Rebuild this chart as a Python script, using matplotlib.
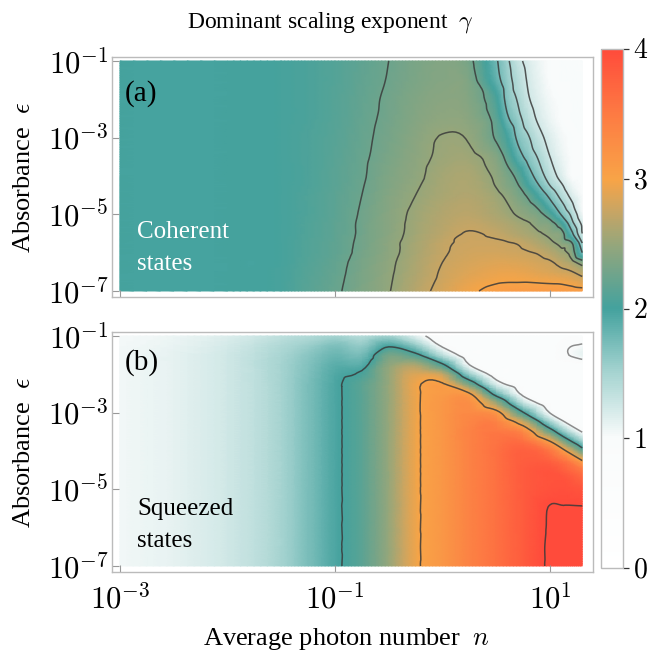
import numpy as np
import matplotlib
matplotlib.use("Agg")
import matplotlib.pyplot as plt
import matplotlib.tri as mtri
from matplotlib.colors import LinearSegmentedColormap, Normalize
from matplotlib.cm import ScalarMappable

plt.rcParams['font.family'] = ['Liberation Serif', 'DejaVu Serif']
plt.rcParams['mathtext.fontset'] = 'cm'

# ---------------------------
# Data (log10 n across, log10 eps up)
# ---------------------------
log_n_a = [-3, -2, -1.5, -1.25, -1, -0.75, -0.5, -0.25, 0, 0.25, 0.5, 0.6, 0.7, 0.8, 0.9, 1.0, 1.1, 1.2, 1.3]
log_eps_a = [-7, -6.75, -6.5, -6.25, -6, -5.75, -5.5, -5.25, -5, -4.75, -4.5, -4.25, -4,
             -3.5, -3, -2.5, -2, -1.5, -1]

# panel (a), coherent states: one row per log_eps_a value (bottom to top)
gamma_a = [
    [2.0, 2.0, 2.03, 2.13, 2.22, 2.35, 2.49, 2.66, 2.82, 2.96, 3.06, 3.09, 3.1, 3.1, 3.1, 3.1, 3.1, 3.09, 3.08],
    [2.0, 2.0, 2.03, 2.12, 2.21, 2.34, 2.48, 2.64, 2.79, 2.91, 2.98, 2.99, 2.99, 2.99, 2.98, 2.97, 2.96, 2.92, 2.85],
    [2.0, 2.0, 2.03, 2.11, 2.2, 2.33, 2.47, 2.62, 2.77, 2.86, 2.92, 2.93, 2.92, 2.9, 2.87, 2.84, 2.8, 2.76, 2.65],
    [2.0, 2.0, 2.02, 2.1, 2.19, 2.32, 2.46, 2.61, 2.75, 2.82, 2.86, 2.86, 2.85, 2.83, 2.8, 2.77, 2.69, 2.58, 2.37],
    [2.0, 2.0, 2.02, 2.09, 2.17, 2.3, 2.44, 2.59, 2.73, 2.79, 2.8, 2.79, 2.78, 2.76, 2.73, 2.66, 2.56, 2.4, 1.75],
    [2.0, 2.0, 2.02, 2.09, 2.17, 2.29, 2.44, 2.58, 2.72, 2.77, 2.77, 2.76, 2.74, 2.69, 2.62, 2.54, 2.44, 2.28, 1.5],
    [2.0, 2.0, 2.02, 2.08, 2.16, 2.28, 2.42, 2.56, 2.68, 2.76, 2.72, 2.68, 2.63, 2.58, 2.52, 2.45, 2.38, 1.82, 1.25],
    [2.0, 2.0, 2.02, 2.08, 2.16, 2.28, 2.42, 2.55, 2.66, 2.72, 2.66, 2.62, 2.57, 2.52, 2.41, 2.36, 2.1, 1.6, 1.2],
    [2.0, 2.0, 2.02, 2.07, 2.15, 2.27, 2.41, 2.54, 2.64, 2.68, 2.6, 2.55, 2.48, 2.41, 2.32, 2.1, 1.75, 1.45, 1.05],
    [2.0, 2.0, 2.02, 2.07, 2.15, 2.26, 2.4, 2.52, 2.62, 2.66, 2.57, 2.51, 2.42, 2.32, 2.15, 1.85, 1.58, 1.3, 1.0],
    [2.0, 2.0, 2.02, 2.07, 2.15, 2.25, 2.39, 2.5, 2.59, 2.63, 2.54, 2.46, 2.34, 2.2, 1.93, 1.68, 1.43, 1.18, 1.0],
    [2.0, 2.0, 2.02, 2.06, 2.14, 2.24, 2.37, 2.48, 2.58, 2.61, 2.49, 2.38, 2.27, 2.0, 1.75, 1.5, 1.3, 1.08, 1.0],
    [2.0, 2.0, 2.02, 2.06, 2.14, 2.23, 2.36, 2.46, 2.57, 2.6, 2.46, 2.34, 2.18, 1.87, 1.62, 1.38, 1.18, 1.0, 1.0],
    [2.0, 2.0, 2.02, 2.06, 2.13, 2.22, 2.33, 2.44, 2.53, 2.54, 2.38, 2.18, 1.88, 1.65, 1.46, 1.25, 1.1, 1.0, 1.0],
    [2.0, 2.0, 2.02, 2.06, 2.12, 2.21, 2.31, 2.42, 2.51, 2.48, 2.22, 2.02, 1.7, 1.52, 1.32, 1.17, 1.05, 1.0, 1.0],
    [2.0, 2.0, 2.02, 2.05, 2.11, 2.2, 2.29, 2.39, 2.45, 2.42, 2.15, 1.8, 1.58, 1.37, 1.2, 1.08, 1.0, 1.0, 1.0],
    [2.0, 2.0, 2.02, 2.05, 2.11, 2.19, 2.28, 2.37, 2.42, 2.38, 2.05, 1.67, 1.48, 1.27, 1.14, 1.04, 1.0, 1.0, 1.0],
    [2.0, 2.0, 2.02, 2.05, 2.1, 2.18, 2.26, 2.34, 2.39, 2.35, 1.85, 1.6, 1.4, 1.22, 1.1, 1.0, 1.0, 1.0, 1.0],
    [2.0, 2.0, 2.02, 2.05, 2.1, 2.17, 2.25, 2.33, 2.38, 2.3, 1.78, 1.55, 1.32, 1.18, 1.07, 1.0, 1.0, 1.0, 1.0],
]

log_n_b = [-3, -2.5, -2, -1.5, -1.25, -1, -0.75, -0.5, -0.25, 0, 0.25, 0.5, 0.75, 1.0, 1.15, 1.3]
log_eps_b = [-7, -6.5, -6, -5.5, -5, -4.75, -4.5, -4.25, -4, -3.75, -3.5, -3.25, -3,
             -2.75, -2.5, -2.25, -2, -1.75, -1.5, -1.25, -1]

# panel (b), squeezed states: one list per log_n_b value (bottom to top)
gamma_b_cols = [
    [1.05] * 19 + [1.04, 1.03],
    [1.12] * 19 + [1.1, 1.08],
    [1.25] * 19 + [1.22, 1.18],
    [1.5] * 18 + [1.48, 1.44, 1.35],
    [1.72] * 16 + [1.7, 1.68, 1.64, 1.55, 1.42],
    [1.95] * 16 + [1.93, 1.88, 1.8, 1.7, 1.5],
    [2.15] * 16 + [2.05, 1.9, 1.75, 1.6, 1.4],
    [2.5] * 17 + [2.45, 2.3, 1.95, 1.5],
    [2.95] * 16 + [2.85, 2.6, 2.1, 1.6, 1.15],
    [3.15] * 14 + [3.1, 3.03, 2.72, 2.06, 1.38, 0.95, 0.82],
    [3.4] * 11 + [3.36, 3.31, 3.24, 3.02, 2.29, 1.59, 1.0, 0.8, 0.8, 0.8],
    [3.6] * 9 + [3.57, 3.52, 3.4, 3.13, 2.53, 1.81, 1.18, 0.83, 0.8, 0.8, 0.8, 0.8],
    [3.82] * 7 + [3.8, 3.77, 3.6, 3.33, 2.78, 2.03, 1.36, 0.91] + [0.8] * 6,
    [4.03, 4.03, 4.02, 4.01, 3.93, 3.91, 3.89, 3.75, 3.53, 3.01, 2.25, 1.55, 0.985] + [0.8] * 8,
    [4.05, 4.05, 4.04, 4.01, 3.94, 3.9, 3.75, 3.52, 3.0, 2.24, 1.53, 0.98, 0.8,
     0.8, 0.8, 0.8, 0.8, 0.82, 0.98, 0.97, 0.85],
    [4.06, 4.06, 4.05, 4.01, 3.9, 3.75, 3.52, 3.0, 2.24, 1.53, 0.98, 0.8, 0.8,
     0.8, 0.8, 0.8, 0.8, 0.85, 1.1, 1.02, 0.85],
]
gamma_b = np.array(gamma_b_cols).T

levels_a = [1.25, 1.5, 1.75, 2.25, 2.5, 2.75, 3.0]
levels_b = [2, 3, 4]
levels_b_light = [1]

x_ticks = [-3, -1, 1]
y_ticks = [-7, -5, -3, -1]
cbar_ticks = [0, 1, 2, 3, 4]

cmap_stops = [0, 1.0, 1.5, 2.0, 2.5, 2.75, 3.0, 3.5, 4.0]
cmap_colors = ['#ffffff', '#f9fbfb', '#a6d4d1', '#44a29e', '#96a67b',
               '#c8a564', '#f8a447', '#fd7b43', '#ff4b3b']

cmap = LinearSegmentedColormap.from_list(
    'gamma', [(s / 4, c) for s, c in zip(cmap_stops, cmap_colors)])
norm = Normalize(vmin=0, vmax=4)

# ---------------------------
# Figure
# ---------------------------
fig = plt.figure(figsize=(6.48, 6.53), dpi=100)
W, H = 648, 653


def px_axes(left, top, right, bottom):
    return fig.add_axes([left / W, 1 - bottom / H, (right - left) / W, (bottom - top) / H])


def draw_panel(ax, log_n, log_eps, gamma, dark_levels, light_levels=None):
    gamma = np.asarray(gamma, dtype=float)
    X, Y = np.meshgrid(log_n, log_eps)
    tri = mtri.Triangulation(X.ravel(), Y.ravel())
    interp = mtri.CubicTriInterpolator(tri, gamma.ravel(), kind='geom')
    tri_f, z_f = mtri.UniformTriRefiner(tri).refine_field(gamma.ravel(), triinterpolator=interp,
                                                          subdiv=3)
    ax.tripcolor(tri_f, z_f, shading='gouraud', cmap=cmap, norm=norm, rasterized=True)
    ax.tricontour(tri_f, z_f, levels=dark_levels, colors='#3a3a3a',
                  linewidths=1.1, alpha=0.85)
    if light_levels:
        ax.tricontour(tri_f, z_f, levels=light_levels, colors='#808080',
                      linewidths=1.1, alpha=0.9)


def style_axes(ax, show_x):
    ax.set_xlim(-3.074, 1.40)
    ax.set_ylim(-7.157, -0.896)
    ax.set_xticks(x_ticks)
    ax.set_yticks(y_ticks)
    ax.set_yticklabels([r'$10^{%d}$' % t for t in y_ticks], fontsize=22)
    if show_x:
        ax.set_xticklabels([r'$10^{%d}$' % t for t in x_ticks], fontsize=22)
    else:
        ax.set_xticklabels([])
    ax.tick_params(direction='in', length=5, width=0.8, color='#999999')
    ax.tick_params(axis='y', pad=2.5)
    ax.tick_params(axis='x', pad=9)
    for sp in ax.spines.values():
        sp.set_color('#bbbbbb')
        sp.set_linewidth(1.0)


ax_a = px_axes(112, 57, 593, 297)
draw_panel(ax_a, log_n_a, log_eps_a, gamma_a, levels_a)
style_axes(ax_a, False)
ax_a.text(-2.96, -1.86, '(a)', fontsize=21, color='black', va='center')
ax_a.text(-2.84, -5.62, 'Coherent', fontsize=18, color='white', va='baseline')
ax_a.text(-2.84, -6.45, 'states', fontsize=18, color='white', va='baseline')

ax_b = px_axes(112, 332, 593, 572)
draw_panel(ax_b, log_n_b, log_eps_b, gamma_b, levels_b, levels_b_light)
style_axes(ax_b, True)
ax_b.text(-2.96, -1.68, '(b)', fontsize=21, color='black', va='center')
ax_b.text(-2.84, -5.67, 'Squeezed', fontsize=18, color='black', va='baseline')
ax_b.text(-2.84, -6.5, 'states', fontsize=18, color='black', va='baseline')

# ---------------------------
# Labels
# ---------------------------
fig.text(0.51, 0.966, r'Dominant scaling exponent  $\gamma$', fontsize=17,
         ha='center', va='center')
fig.text(0.535, 0.022, r'Average photon number  $n$', fontsize=19,
         ha='center', va='center')
fig.text(0.037, 1 - 177 / H, r'Absorbance  $\epsilon$', fontsize=19,
         rotation=90, ha='center', va='center')
fig.text(0.037, 1 - 452 / H, r'Absorbance  $\epsilon$', fontsize=19,
         rotation=90, ha='center', va='center')

# ---------------------------
# Colorbar
# ---------------------------
cax = px_axes(601, 49, 623, 568)
cb = fig.colorbar(ScalarMappable(norm=norm, cmap=cmap), cax=cax, ticks=cbar_ticks)
cb.outline.set_edgecolor('#bbbbbb')
cb.outline.set_linewidth(1.0)
cax.axhline(4, color='#222222', linewidth=1.4)
cax.set_yticklabels([r'$%d$' % t for t in cbar_ticks], fontsize=20)
cax.tick_params(direction='out', length=4, width=0.9, color='#333333', pad=3)

fig.savefig('out.png', dpi=100)
